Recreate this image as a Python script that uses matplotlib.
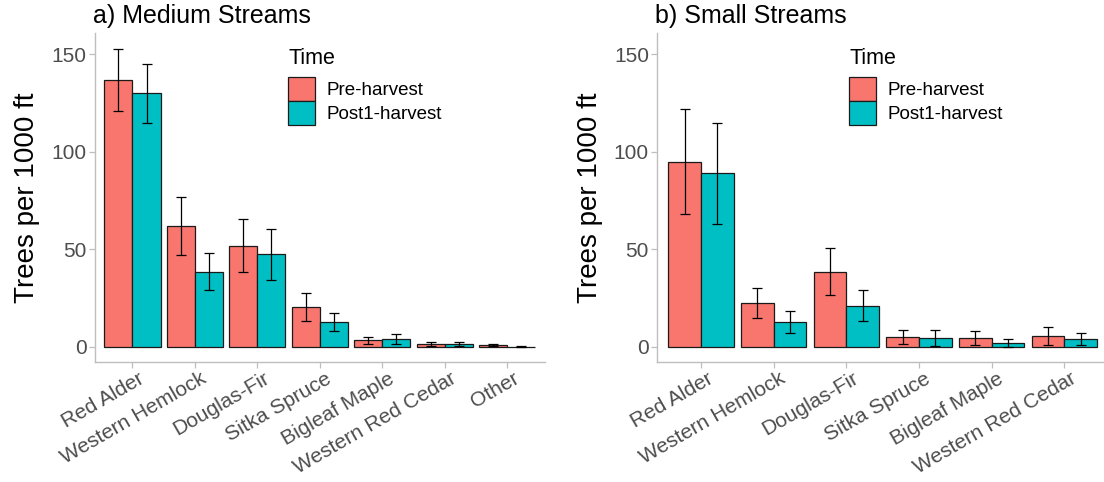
import matplotlib
matplotlib.use("Agg")
import matplotlib.pyplot as plt
import matplotlib.transforms as mtransforms
import numpy as np
from matplotlib.patches import Patch

plt.rcParams['font.family'] = ['Liberation Sans', 'DejaVu Sans']

# Medium streams
medium_species = ["Red Alder", "Western Hemlock", "Douglas-Fir", "Sitka Spruce",
                  "Bigleaf Maple", "Western Red Cedar", "Other"]
medium_pre = [137.0, 62.0, 52.0, 20.6, 3.4, 1.6, 1.0]
medium_pre_err = [16.0, 15.0, 13.5, 7.2, 1.8, 1.1, 0.4]
medium_post = [130.0, 38.5, 47.5, 12.9, 4.1, 1.5, 0.2]
medium_post_err = [15.0, 9.5, 13.0, 4.5, 2.7, 1.0, 0.2]

# Small streams
small_species = ["Red Alder", "Western Hemlock", "Douglas-Fir", "Sitka Spruce",
                 "Bigleaf Maple", "Western Red Cedar"]
small_pre = [95.0, 22.4, 38.6, 5.1, 4.5, 5.4]
small_pre_err = [26.8, 7.7, 12.0, 3.8, 3.5, 4.6]
small_post = [89.0, 12.9, 21.2, 4.7, 2.0, 4.3]
small_post_err = [25.8, 5.7, 7.8, 4.0, 1.9, 3.1]

groups = ["Pre-harvest", "Post1-harvest"]
colors = ["#F8766D", "#00BFC4"]
y_ticks = [0, 50, 100, 150]

fig = plt.figure(figsize=(11.04, 4.82), dpi=100)
W, H = 1104, 482
ax_a = fig.add_axes([95 / W, 1 - 362 / H, (544.5 - 95) / W, (362 - 33) / H])
ax_b = fig.add_axes([657.3 / W, 1 - 362 / H, (1104 - 657.3) / W, (362 - 33) / H])

axis_grey = "#BEBEBE"
tick_grey = "#4D4D4D"


def draw_panel(ax, title, species, pre, pre_err, post, post_err, xmax):
    x = np.arange(len(species))
    width = 0.45
    for off, vals, errs, col in [(-width / 2, pre, pre_err, colors[0]),
                                 (width / 2, post, post_err, colors[1])]:
        ax.bar(x + off, vals, width=width, color=col, edgecolor="#1a1a1a",
               linewidth=0.9, zorder=2)
        ax.errorbar(x + off, vals, yerr=errs, fmt="none", ecolor="black",
                    elinewidth=0.9, capsize=3.6, capthick=0.9, zorder=3)
    ax.set_xlim(-0.6, xmax)
    ax.set_ylim(-7.7, 161)
    ax.set_yticks(y_ticks)
    ax.set_xticks(x)
    ax.tick_params(axis="both", colors=axis_grey, labelcolor=tick_grey,
                   labelsize=15, length=4, width=0.9)
    ax.tick_params(axis="x", pad=1)
    ax.tick_params(axis="y", pad=2)
    labels = ax.set_xticklabels(species, rotation=30, ha="right", va="top",
                                rotation_mode="anchor")
    # nudge the slanted category labels a little to the right
    shift = mtransforms.ScaledTranslation(5.5 / 100, 0, fig.dpi_scale_trans)
    for lab in labels:
        lab.set_transform(lab.get_transform() + shift)
    for s in ["top", "right"]:
        ax.spines[s].set_visible(False)
    for s in ["left", "bottom"]:
        ax.spines[s].set_color(axis_grey)
        ax.spines[s].set_linewidth(1.0)
    ax.set_ylabel("Trees per 1000 ft", fontsize=20, color="black", labelpad=8)
    ax.set_title(title, loc="left", fontsize=18, pad=7, x=-0.005)
    handles = [Patch(facecolor=c, edgecolor="#1a1a1a", linewidth=0.9) for c in colors]
    leg = ax.legend(handles, groups, title="Time", loc="upper left",
                    bbox_to_anchor=(0.43, 0.955), frameon=False, fontsize=13.5,
                    title_fontsize=15.5, borderpad=0, borderaxespad=0,
                    handlelength=1.4, handleheight=1.6, handletextpad=0.65,
                    labelspacing=0.0, alignment="left")
    leg.get_title().set_color("black")
    # gap between the legend title and its keys
    leg._legend_box.sep = 6


draw_panel(ax_a, "a) Medium Streams", medium_species, medium_pre, medium_pre_err,
           medium_post, medium_post_err, 6.6)
draw_panel(ax_b, "b) Small Streams", small_species, small_pre, small_pre_err,
           small_post, small_post_err, 5.545)

fig.savefig("out.png", dpi=100, facecolor="white")
